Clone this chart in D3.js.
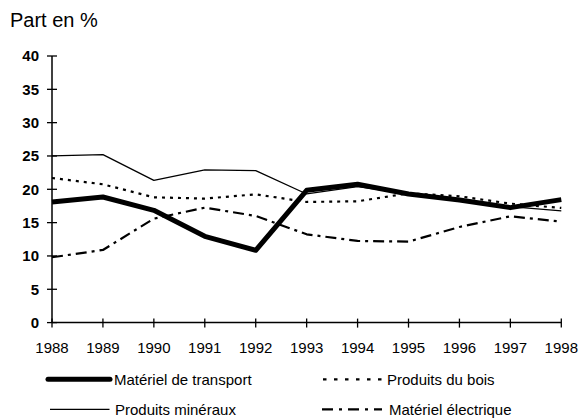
<!DOCTYPE html>
<html>
<head>
<meta charset="utf-8">
<script src="https://cdn.jsdelivr.net/npm/d3@7"></script>
<style>
    body { margin: 0; background: #fff; }
    text { font-family: "Liberation Sans", Arial, sans-serif; fill: #000; }
</style>
</head>
<body>
<div id="chart"></div>
<script>
// data
const years = [1988, 1989, 1990, 1991, 1992, 1993, 1994, 1995, 1996, 1997, 1998];
const transport = [18.1, 18.85, 16.85, 12.95, 10.85, 19.85, 20.75, 19.3, 18.4, 17.25, 18.45];
const bois = [21.7, 20.75, 18.8, 18.6, 19.25, 18.1, 18.2, 19.4, 18.95, 17.85, 17.2];
const mineraux = [25.0, 25.2, 21.35, 22.9, 22.8, 19.3, 20.4, 19.3, 18.3, 17.4, 16.75];
const electrique = [9.8, 10.9, 15.6, 17.25, 16.0, 13.25, 12.25, 12.15, 14.35, 15.95, 15.15];
const yTicks = [0, 5, 10, 15, 20, 25, 30, 35, 40];

const series = [
    { name: 'Matériel de transport', values: transport, width: 5, dash: null, legDash: null,
      lx: 48, lw: 62, tx: 66, row: 0 },
    { name: 'Produits du bois', values: bois, width: 2.2, dash: '3,5', legDash: '3.5,7.5',
      lx: 323, lw: 60, tx: 64, row: 0 },
    { name: 'Produits minéraux', values: mineraux, width: 1.3, dash: null, legDash: null,
      lx: 50, lw: 59.5, tx: 65, row: 1 },
    { name: 'Matériel électrique', values: electrique, width: 2.2, dash: '11,5,3,5', legDash: '11,6,3,6',
      lx: 322, lw: 60, tx: 67, row: 1 }
];

const width = 581, height = 419;

const svg = d3.select('#chart')
    .append('svg')
    .attr('width', width)
    .attr('height', height);

// scales
const x = d3.scaleLinear()
    .domain([1988, 1998])
    .range([52, 561.3]);

const y = d3.scaleLinear()
    .domain([0, 40])
    .range([322.6, 56]);

// title
svg.append('text')
    .attr('x', 10)
    .attr('y', 27)
    .attr('font-size', 20)
    .text('Part en %');

// y axis
svg.append('line')
    .attr('x1', x(1988)).attr('x2', x(1988))
    .attr('y1', y(40)).attr('y2', y(0))
    .attr('stroke', '#000').attr('stroke-width', 1.5);

svg.selectAll('.ytick')
    .data(yTicks)
    .enter()
    .append('line')
    .attr('class', 'ytick')
    .attr('x1', x(1988) - 5).attr('x2', x(1988) + 5)
    .attr('y1', d => y(d)).attr('y2', d => y(d))
    .attr('stroke', '#000').attr('stroke-width', 1.3);

svg.selectAll('.ylabel')
    .data(yTicks)
    .enter()
    .append('text')
    .attr('class', 'ylabel')
    .attr('x', 39)
    .attr('y', d => y(d))
    .attr('dy', '0.36em')
    .attr('text-anchor', 'end')
    .attr('font-size', 15)
    .attr('font-weight', 'bold')
    .text(d => d);

// x axis
svg.append('line')
    .attr('x1', x(1988)).attr('x2', x(1998))
    .attr('y1', y(0)).attr('y2', y(0))
    .attr('stroke', '#000').attr('stroke-width', 1.5);

svg.selectAll('.xtick')
    .data(years)
    .enter()
    .append('line')
    .attr('class', 'xtick')
    .attr('x1', d => x(d)).attr('x2', d => x(d))
    .attr('y1', y(0) - 4).attr('y2', y(0) + 5)
    .attr('stroke', '#000').attr('stroke-width', 1.3);

svg.selectAll('.xlabel')
    .data(years)
    .enter()
    .append('text')
    .attr('class', 'xlabel')
    .attr('x', d => x(d))
    .attr('y', 352.5)
    .attr('text-anchor', 'middle')
    .attr('font-size', 15)
    .text(d => d);

// lines
const line = d3.line()
    .x((d, i) => x(years[i]))
    .y(d => y(d));

svg.selectAll('.series')
    .data(series)
    .enter()
    .append('path')
    .attr('class', 'series')
    .attr('d', d => line(d.values))
    .attr('fill', 'none')
    .attr('stroke', '#000')
    .attr('stroke-width', d => d.width)
    .attr('stroke-dasharray', d => d.dash)
    .attr('stroke-linejoin', 'round');

// legend
const legend = svg.selectAll('.legend')
    .data(series)
    .enter()
    .append('g')
    .attr('class', 'legend')
    .attr('transform', d => `translate(${d.lx}, ${d.row ? 409.3 : 379.3})`);

legend.append('line')
    .attr('x1', 0).attr('x2', d => d.lw)
    .attr('y1', 0).attr('y2', 0)
    .attr('stroke', '#000')
    .attr('stroke-width', d => d.width)
    .attr('stroke-linecap', d => d.width > 3 ? 'round' : 'butt')
    .attr('stroke-dasharray', d => d.legDash);

legend.append('text')
    .attr('x', d => d.tx)
    .attr('y', 0)
    .attr('dy', '0.36em')
    .attr('font-size', 15)
    .text(d => d.name);
</script>
</body>
</html>
